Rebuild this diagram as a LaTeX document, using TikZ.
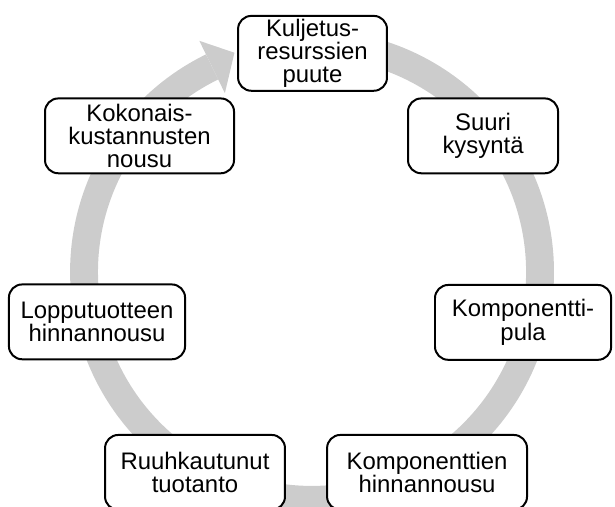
\documentclass[tikz,border=0pt]{standalone}
\usepackage{fontspec}
\setmainfont{Liberation Sans}
\usepackage{tikz}
\usetikzlibrary{calc}

\begin{document}
\begin{tikzpicture}[scale=1,
    box/.style={draw, line width=1.5pt, rounded corners=0.35cm, fill=white,
        align=center, inner sep=2pt, minimum height=1.98cm,
        font=\fontsize{18}{17.5}\selectfont},
    ring/.style={gray!40, line width=21pt}]
    \useasboundingbox (0,0) rectangle (16.27,13.41);

    % circular arrow
    \coordinate (c) at (8.255,6.218);
    \draw[ring] ($(c)+(95:6.032)$) arc[start angle=95, end angle=-244, radius=6.032];
    \coordinate (h1) at ($(c)+(116:5.26)$);
    \coordinate (h2) at ($(c)+(116:6.80)$);
    \coordinate (tip) at ($(c)+(109.5:6.15)$);
    \fill[gray!40] (h1) -- (h2) -- (tip) -- cycle;

    \node[box, minimum width=3.94cm] (kuljetus) at (8.268,11.999) {Kuljetus-\\resurssien\\puute};
    \node[box, minimum width=3.97cm] (kysynta) at (12.779,9.816) {Suuri\\kysyntä};
    \node[box, minimum width=4.66cm] (pula) at (13.838,4.881) {Komponentti-\\pula};
    \node[box, minimum width=5.29cm] (hinnat) at (11.298,0.913) {Komponenttien\\hinnannousu};
    \node[box, minimum width=4.76cm] (ruuhka) at (5.159,0.913) {Ruuhkautunut\\tuotanto};
    \node[box, minimum width=4.66cm] (loppu) at (2.566,4.895) {Lopputuotteen\\hinnannousu};
    \node[box, minimum width=5.00cm] (kustannus) at (3.691,9.816) {Kokonais-\\kustannusten\\nousu};

\end{tikzpicture}
\end{document}
